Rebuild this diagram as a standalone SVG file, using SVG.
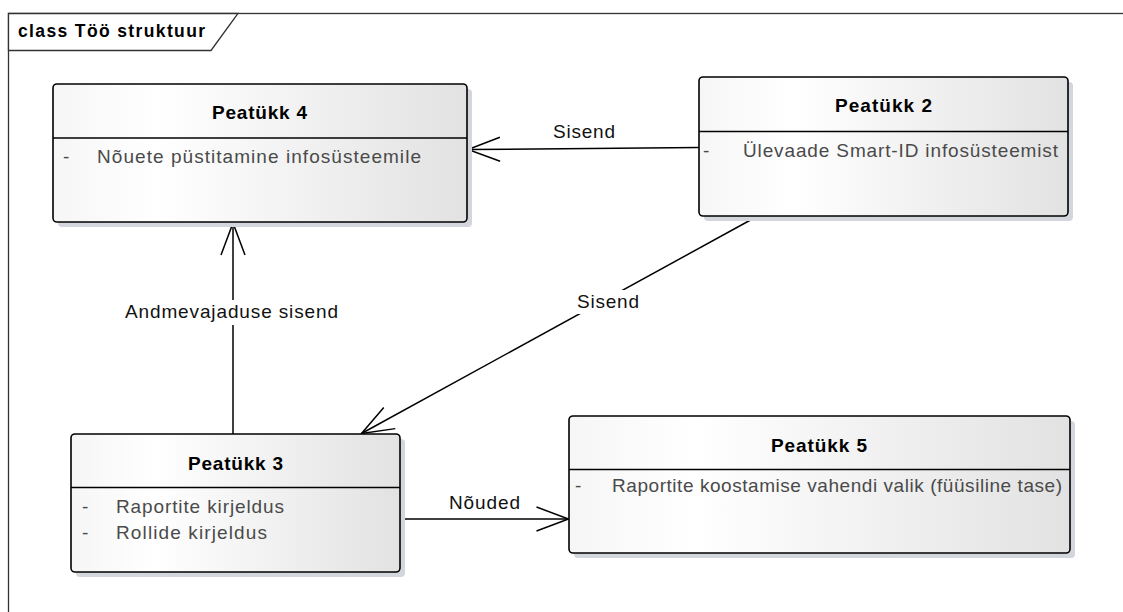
<svg xmlns="http://www.w3.org/2000/svg" width="1123" height="612" viewBox="0 0 1123 612">
  <defs>
    <linearGradient id="boxFill" x1="0" y1="0" x2="1" y2="0">
      <stop offset="0" stop-color="#f6f6f6"/>
      <stop offset="0.25" stop-color="#ffffff"/>
      <stop offset="1" stop-color="#e2e2e2"/>
    </linearGradient>
    <marker id="openArrow" markerUnits="userSpaceOnUse" markerWidth="40" markerHeight="30" viewBox="-36 -15 40 30" refX="0" refY="0" orient="auto" overflow="visible">
      <path d="M -32 -12 L 0 0 L -32 12" fill="none" stroke="#000" stroke-width="1.5"/>
    </marker>
  </defs>
  <style>
    .frame { fill: none; stroke: #333; stroke-width: 1.3; }
    .tab { fill: #fff; stroke: #333; stroke-width: 1.3; }
    .tabTitle { font-family: "Liberation Sans", Arial, sans-serif; font-weight: bold; font-size: 17.5px; fill: #000; }
    .shadow { fill: #d3d6dc; }
    .box { fill: url(#boxFill); stroke: #000; stroke-width: 1.6; }
    .divider { stroke: #000; stroke-width: 1.4; }
    .title { font-family: "Liberation Sans", Arial, sans-serif; font-weight: bold; font-size: 19px; fill: #000; }
    .attr { font-family: "Liberation Sans", Arial, sans-serif; font-size: 19px; fill: #4a4a4a; }
    .edge { fill: none; stroke: #000; stroke-width: 1.5; marker-end: url(#openArrow); }
    .lblBg { fill: #fff; }
    .lbl { font-family: "Liberation Sans", Arial, sans-serif; font-size: 19px; fill: #111; }
  </style>

  <rect x="0" y="0" width="1123" height="612" fill="#fff"/>

  <!-- package frame -->
  <g id="frame">
    <rect class="frame" x="8.5" y="13.5" width="1200" height="700"/>
    <path class="tab" d="M 8.5 13.5 L 238 13.5 L 211 50.5 L 8.5 50.5 Z"/>
    <text class="tabTitle" x="18" y="37" textLength="187" lengthAdjust="spacing">class Töö struktuur</text>
  </g>

  <!-- connectors -->
  <g id="connectors">
    <line class="edge" x1="699" y1="147.5" x2="468" y2="149.5"/>
    <line class="edge" x1="756" y1="217" x2="361.5" y2="433.5"/>
    <line class="edge" x1="233" y1="434" x2="233" y2="223"/>
    <line class="edge" x1="400" y1="519" x2="568.5" y2="519"/>

    <rect class="lblBg" x="550" y="120" width="68" height="22"/>
    <text class="lbl" x="553" y="138" textLength="62" lengthAdjust="spacing">Sisend</text>
    <rect class="lblBg" x="575" y="290" width="66" height="24"/>
    <text class="lbl" x="577" y="308" textLength="62" lengthAdjust="spacing">Sisend</text>
    <rect class="lblBg" x="122" y="300" width="219" height="25"/>
    <text class="lbl" x="125" y="318" textLength="213" lengthAdjust="spacing">Andmevajaduse sisend</text>
    <rect class="lblBg" x="446" y="492" width="77" height="22"/>
    <text class="lbl" x="449" y="509" textLength="71" lengthAdjust="spacing">Nõuded</text>
  </g>

  <!-- Peatükk 4 -->
  <g id="peatukk4">
    <rect class="shadow" x="58" y="89" width="414" height="138" rx="4"/>
    <rect class="box" x="53" y="84" width="414" height="138" rx="4"/>
    <line class="divider" x1="53" y1="138" x2="467" y2="138"/>
    <text class="title" x="212" y="119" textLength="95" lengthAdjust="spacing">Peatükk 4</text>
    <text class="attr" x="63" y="163">-</text>
    <text class="attr" x="97" y="163" textLength="324" lengthAdjust="spacing">Nõuete püstitamine infosüsteemile</text>
  </g>

  <!-- Peatükk 2 -->
  <g id="peatukk2">
    <rect class="shadow" x="704" y="82" width="369" height="139" rx="4"/>
    <rect class="box" x="699" y="77" width="369" height="139" rx="4"/>
    <line class="divider" x1="699" y1="131.5" x2="1068" y2="131.5"/>
    <text class="title" x="835" y="112" textLength="97" lengthAdjust="spacing">Peatükk 2</text>
    <text class="attr" x="703" y="157">-</text>
    <text class="attr" x="743" y="157" textLength="315" lengthAdjust="spacing">Ülevaade Smart-ID infosüsteemist</text>
  </g>

  <!-- Peatükk 3 -->
  <g id="peatukk3">
    <rect class="shadow" x="76" y="439" width="329" height="138" rx="4"/>
    <rect class="box" x="71" y="434" width="329" height="138" rx="4"/>
    <line class="divider" x1="71" y1="487.5" x2="400" y2="487.5"/>
    <text class="title" x="188" y="470" textLength="95" lengthAdjust="spacing">Peatükk 3</text>
    <text class="attr" x="82" y="513">-</text>
    <text class="attr" x="116" y="513" textLength="168" lengthAdjust="spacing">Raportite kirjeldus</text>
    <text class="attr" x="82" y="539">-</text>
    <text class="attr" x="116" y="539" textLength="151" lengthAdjust="spacing">Rollide kirjeldus</text>
  </g>

  <!-- Peatükk 5 -->
  <g id="peatukk5">
    <rect class="shadow" x="574" y="421" width="501" height="137" rx="4"/>
    <rect class="box" x="569" y="416" width="501" height="137" rx="4"/>
    <line class="divider" x1="569" y1="469.5" x2="1070" y2="469.5"/>
    <text class="title" x="771" y="452" textLength="96" lengthAdjust="spacing">Peatükk 5</text>
    <text class="attr" x="575" y="492">-</text>
    <text class="attr" x="612" y="492" textLength="450" lengthAdjust="spacing">Raportite koostamise vahendi valik (füüsiline tase)</text>
  </g>
</svg>
